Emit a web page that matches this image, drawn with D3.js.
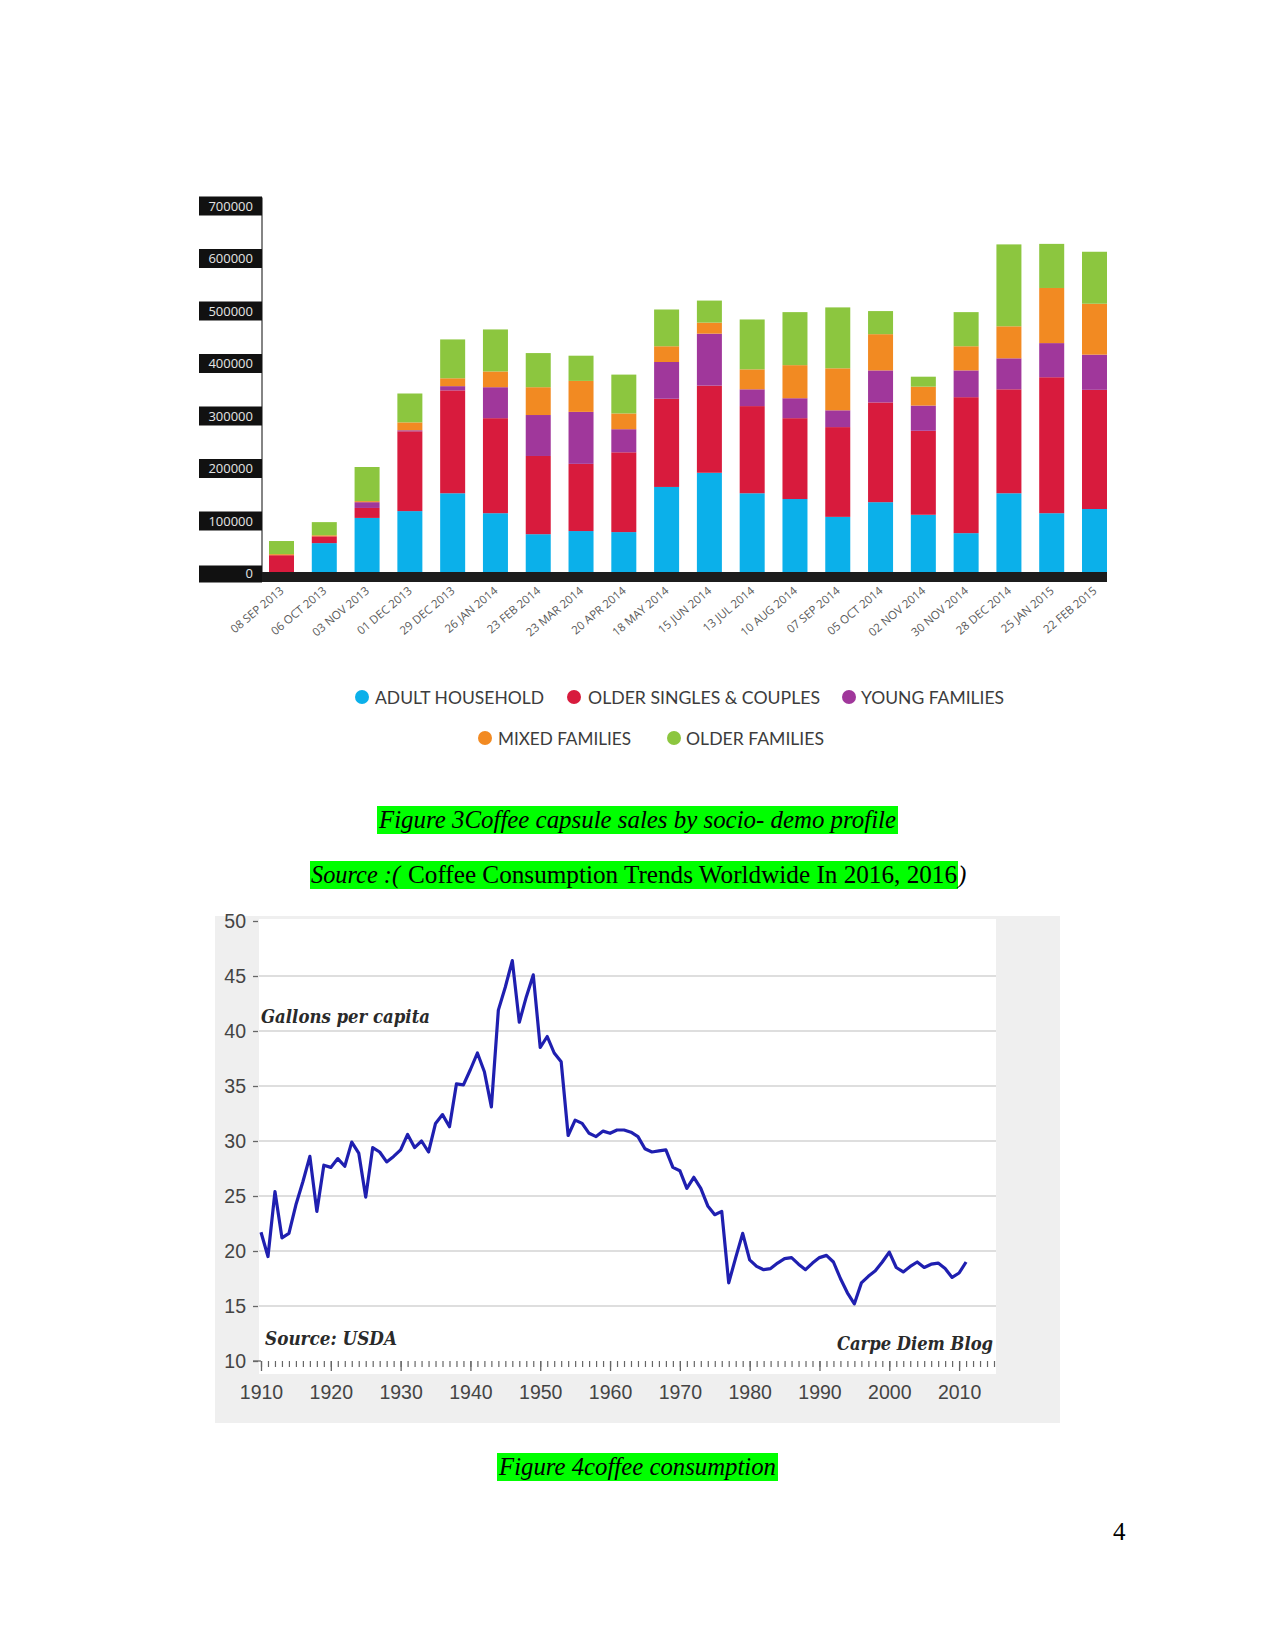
<!DOCTYPE html>
<html><head><meta charset="utf-8">
<script src="https://cdn.jsdelivr.net/npm/d3@7"></script>
<style>body{margin:0;background:#fff}svg{display:block}</style>
</head><body>
<svg id="page" width="1275" height="1651"></svg>
<script>
// ---------- Figure 3 data ----------
const dates = ["08 SEP 2013","06 OCT 2013","03 NOV 2013","01 DEC 2013","29 DEC 2013","26 JAN 2014","23 FEB 2014","23 MAR 2014","20 APR 2014","18 MAY 2014","15 JUN 2014","13 JUL 2014","10 AUG 2014","07 SEP 2014","05 OCT 2014","02 NOV 2014","30 NOV 2014","28 DEC 2014","25 JAN 2015","22 FEB 2015"];
const seriesNames = ["ADULT HOUSEHOLD","OLDER SINGLES & COUPLES","YOUNG FAMILIES","MIXED FAMILIES","OLDER FAMILIES"];
const adultHousehold = [0,55000,103000,116000,150000,112000,72000,78000,76000,162000,189000,150000,139000,105000,133000,109000,74000,150000,112000,120000];
const olderSinglesCouples = [32000,13000,19000,152000,196000,181000,149000,128000,152000,168000,166000,166000,154000,171000,190000,160000,259000,198000,259000,227000];
const youngFamilies = [0,0,11000,2000,8000,59000,78000,99000,44000,70000,99000,32000,38000,32000,61000,48000,51000,59000,65000,67000];
const mixedFamilies = [2000,2000,2000,15000,15000,30000,53000,59000,30000,30000,21000,38000,63000,80000,69000,36000,46000,61000,105000,97000];
const olderFamilies = [25000,25000,65000,55000,74000,80000,65000,48000,74000,70000,42000,95000,101000,116000,44000,19000,65000,156000,84000,99000];
const yTicksBar = [0,100000,200000,300000,400000,500000,600000,700000];

// ---------- Figure 4 data ----------
const years = d3.range(1910, 2012);
const gallonsPerCapita = [21.7,19.5,25.4,21.2,21.6,24.2,26.3,28.6,23.6,27.8,
 27.6,28.4,27.7,29.9,28.9,24.9,29.4,29.0,28.1,28.6,
 29.2,30.6,29.4,30.0,29.0,31.6,32.4,31.3,35.2,35.1,
 36.5,38.0,36.3,33.1,41.9,44.0,46.4,40.8,43.1,45.1,
 38.5,39.5,38.0,37.2,30.5,31.9,31.6,30.7,30.4,30.9,
 30.7,31.0,31.0,30.8,30.4,29.3,29.0,29.1,29.2,27.6,
 27.3,25.7,26.7,25.7,24.1,23.3,23.6,17.1,19.4,21.6,
 19.2,18.6,18.3,18.4,18.9,19.3,19.4,18.8,18.3,18.9,
 19.4,19.6,19.0,17.5,16.2,15.2,17.1,17.7,18.2,19.0,
 19.9,18.5,18.1,18.6,19.0,18.5,18.8,18.9,18.4,17.6,
 18.0,19.0];
const yTicksLine = [10,15,20,25,30,35,40,45,50];
const xLabelYears = [1910,1920,1930,1940,1950,1960,1970,1980,1990,2000,2010];

const svg = d3.select("#page");
svg.append("rect").attr("width",1275).attr("height",1651).attr("fill","#fff");

// ================= Figure 3: stacked bars =================
const colors = ["#0bb0ea","#d81b3d","#a0379b","#f28a22","#8cc63f"];
const rows = dates.map((d,i)=>({date:d, s0:adultHousehold[i], s1:olderSinglesCouples[i], s2:youngFamilies[i], s3:mixedFamilies[i], s4:olderFamilies[i]}));
const keys = ["s0","s1","s2","s3","s4"];
const stack = d3.stack().keys(keys)(rows);

const xb = d3.scaleBand().domain(dates).range([269,1107]).paddingInner(0.4157).paddingOuter(0);
const yb = d3.scaleLinear().domain([0,700000]).range([572,204.5]);

const g1 = svg.append("g");
g1.append("line").attr("x1",262).attr("x2",262).attr("y1",yb(700000)-7).attr("y2",572).attr("stroke","#333").attr("stroke-width",1.2);

g1.selectAll("g.layer").data(stack).join("g").attr("fill",(d,i)=>colors[i])
  .selectAll("rect").data(d=>d).join("rect")
  .attr("x",d=>xb(d.data.date)).attr("width",xb.bandwidth())
  .attr("y",d=>yb(d[1])).attr("height",d=>Math.max(0,yb(d[0])-yb(d[1])));

g1.append("rect").attr("x",262).attr("y",572).attr("width",1107-262).attr("height",10).attr("fill","#1c1c1c");

const yl = g1.selectAll("g.ylab").data(yTicksBar).join("g").attr("transform",d=>`translate(0,${yb(d)+1.5})`);
yl.append("rect").attr("x",199).attr("width",63).attr("y",d=>d===0?-8:-9.5).attr("height",d=>d===0?17:19).attr("fill","#111");
yl.append("text").attr("x",253).attr("y",0).attr("dy","0.36em").attr("text-anchor","end")
  .attr("font-family","Open Sans, Lato, sans-serif").attr("font-size",13).attr("fill","#e4e4e4").text(d=>d);

g1.selectAll("text.xl").data(dates).join("text")
  .attr("transform",d=>`translate(${xb(d)+xb.bandwidth()/2+3},592) rotate(-40)`)
  .attr("text-anchor","end").attr("font-family","Open Sans, sans-serif").attr("font-size",11.5)
  .attr("fill","#5a5a5a").text(d=>d);

// legend
const legendPos = [[362,697,375,169],[574,697,588,232],[849,697,861,143],[485,738,498,133],[674,738,686,138]];
seriesNames.forEach((n,i)=>{
  const p = legendPos[i];
  g1.append("circle").attr("cx",p[0]).attr("cy",p[1]).attr("r",7).attr("fill",colors[i]);
  g1.append("text").attr("x",p[2]).attr("y",p[1]+6.5).attr("font-family","Lato, Open Sans, sans-serif")
    .attr("font-size",17.5).attr("fill","#3c3c3c").attr("textLength",p[3]).attr("lengthAdjust","spacingAndGlyphs").text(n);
});

// ================= captions =================
const serif = "Liberation Serif, Times New Roman, serif";
svg.append("rect").attr("x",377).attr("y",806).attr("width",521).attr("height",28).attr("fill","#00ff00");
svg.append("text").attr("x",379).attr("y",828).attr("font-family",serif).attr("font-style","italic").attr("font-size",25)
  .attr("textLength",517).attr("lengthAdjust","spacingAndGlyphs").text("Figure 3Coffee capsule sales by socio- demo profile");

svg.append("rect").attr("x",310).attr("y",861).attr("width",648).attr("height",28).attr("fill","#00ff00");
svg.append("text").attr("x",311).attr("y",883).attr("font-family",serif).attr("font-style","italic").attr("font-size",25)
  .attr("textLength",89).attr("lengthAdjust","spacingAndGlyphs").text("Source :(");
svg.append("text").attr("x",408).attr("y",883).attr("font-family",serif).attr("font-size",25)
  .attr("textLength",549).attr("lengthAdjust","spacingAndGlyphs").text("Coffee Consumption Trends Worldwide In 2016, 2016");
svg.append("text").attr("x",958).attr("y",883).attr("font-family",serif).attr("font-style","italic").attr("font-size",25).text(")");

svg.append("rect").attr("x",497).attr("y",1453).attr("width",281).attr("height",28).attr("fill","#00ff00");
svg.append("text").attr("x",499).attr("y",1475).attr("font-family",serif).attr("font-style","italic").attr("font-size",25)
  .attr("textLength",277).attr("lengthAdjust","spacingAndGlyphs").text("Figure 4coffee consumption");

svg.append("text").attr("x",1113).attr("y",1540).attr("font-family",serif).attr("font-size",25).text("4");

// ================= Figure 4: line chart =================
const g2 = svg.append("g");
g2.append("rect").attr("x",215).attr("y",916).attr("width",845).attr("height",507).attr("fill","#efefef");
g2.append("rect").attr("x",259).attr("y",919).attr("width",737).attr("height",455).attr("fill","#ffffff");

const xl = d3.scaleLinear().domain([1910,2015]).range([261,994]);
const yln = d3.scaleLinear().domain([10,50]).range([1361,921]);

g2.selectAll("line.grid").data(yTicksLine.filter(v=>v>10 && v<50)).join("line")
  .attr("x1",259).attr("x2",996).attr("y1",d=>yln(d)).attr("y2",d=>yln(d))
  .attr("stroke","#dedede").attr("stroke-width",2);

const yAxis = g2.append("g").attr("transform","translate(258,0)")
  .call(d3.axisLeft(yln).tickValues(yTicksLine).tickSize(5).tickPadding(7).tickFormat(d3.format("d")));
yAxis.select(".domain").remove();
yAxis.selectAll("line").attr("stroke","#666").attr("stroke-width",1.3);
yAxis.selectAll("text").attr("font-family","Liberation Sans, Arial, sans-serif").attr("font-size",19.5).attr("fill","#444");

const xMinor = g2.append("g").attr("transform","translate(0,1361)")
  .call(d3.axisBottom(xl).tickValues(d3.range(1910,2016)).tickSize(6).tickFormat(""));
xMinor.select(".domain").remove();
xMinor.selectAll("line").attr("stroke","#666").attr("stroke-width",1.2);
const xMajor = g2.append("g").attr("transform","translate(0,1361)")
  .call(d3.axisBottom(xl).tickValues(xLabelYears).tickSize(10).tickPadding(14).tickFormat(d3.format("d")));
xMajor.select(".domain").remove();
xMajor.selectAll("line").attr("stroke","#666").attr("stroke-width",1.3);
xMajor.selectAll("text").attr("font-family","Liberation Sans, Arial, sans-serif").attr("font-size",19.5).attr("fill","#444");
g2.append("line").attr("x1",253).attr("x2",261).attr("y1",1361).attr("y2",1361).attr("stroke","#666").attr("stroke-width",1.3);

const line = d3.line().x((d,i)=>xl(years[i])).y(d=>yln(d));
g2.append("path").datum(gallonsPerCapita).attr("d",line).attr("fill","none")
  .attr("stroke","#1f1fb0").attr("stroke-width",3.2).attr("stroke-linejoin","round");

const bserif = "Georgia, DejaVu Serif, Liberation Serif, serif";
g2.append("text").attr("x",261).attr("y",1023).attr("font-family",bserif).attr("font-style","italic").attr("font-weight","bold")
  .attr("font-size",18).attr("fill","#2a2a2a").attr("textLength",169).attr("lengthAdjust","spacingAndGlyphs").text("Gallons per capita");
g2.append("text").attr("x",265).attr("y",1345).attr("font-family",bserif).attr("font-style","italic").attr("font-weight","bold")
  .attr("font-size",18).attr("fill","#2a2a2a").attr("textLength",132).attr("lengthAdjust","spacingAndGlyphs").text("Source: USDA");
g2.append("text").attr("x",837).attr("y",1350).attr("font-family",bserif).attr("font-style","italic").attr("font-weight","bold")
  .attr("font-size",18).attr("fill","#2a2a2a").attr("textLength",156).attr("lengthAdjust","spacingAndGlyphs").text("Carpe Diem Blog");
</script>
</body></html>
